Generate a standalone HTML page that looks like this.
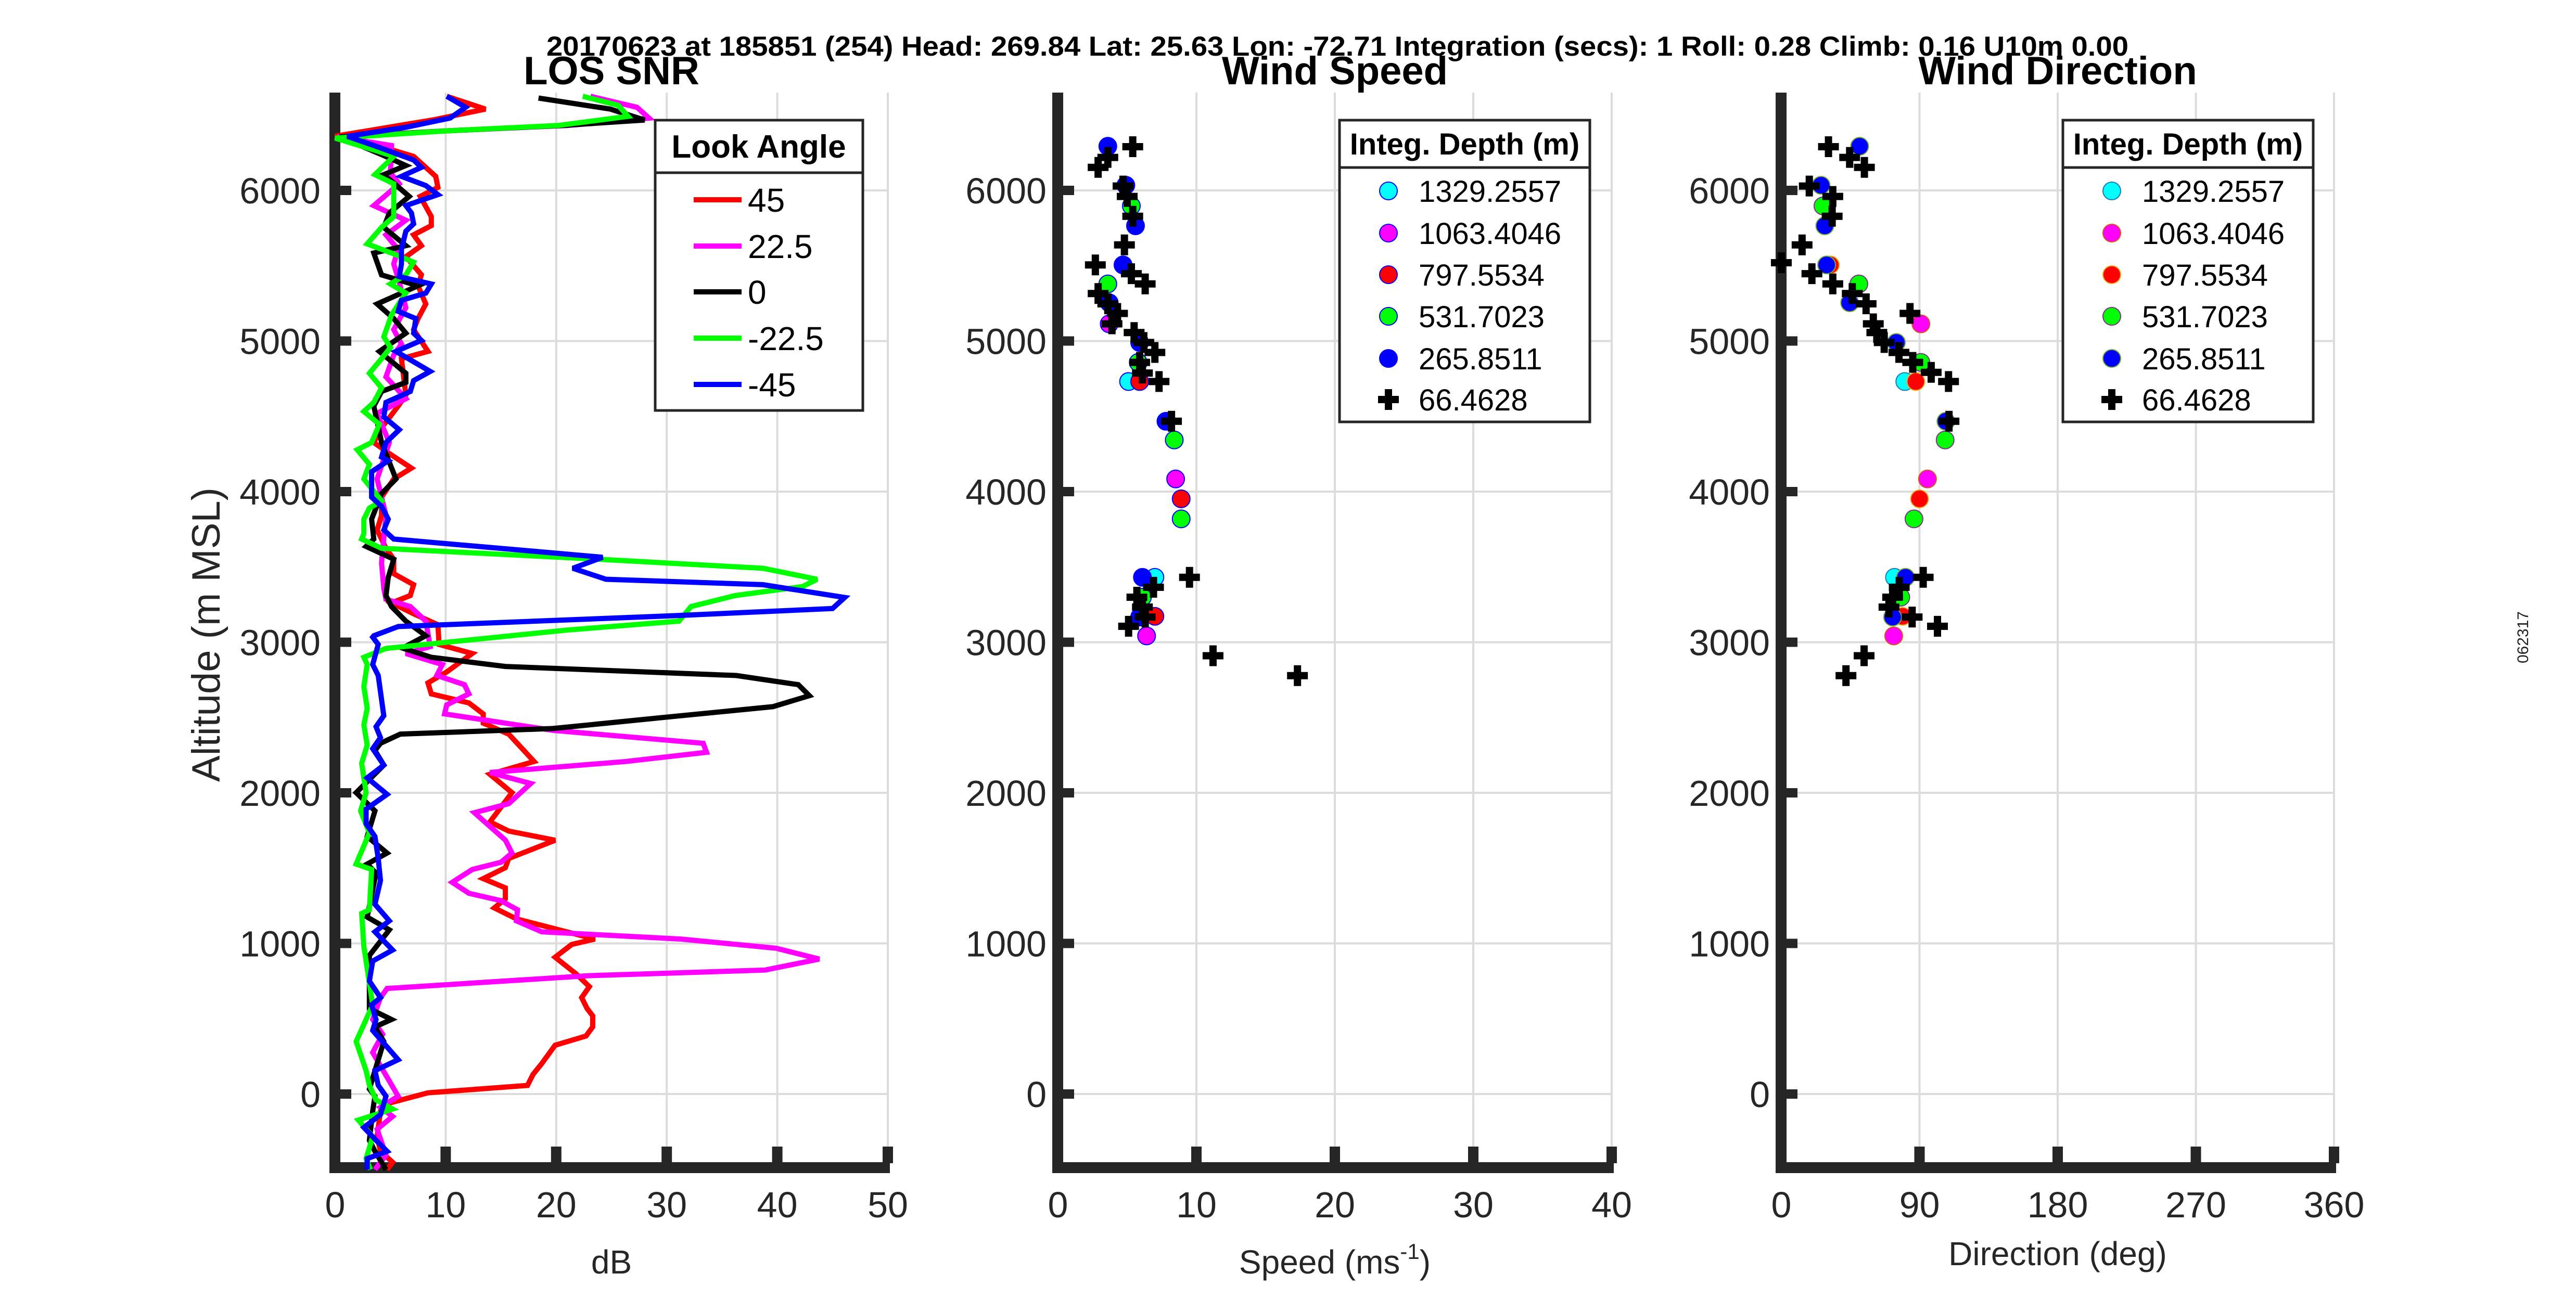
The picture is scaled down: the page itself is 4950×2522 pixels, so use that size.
<!DOCTYPE html>
<html><head><meta charset="utf-8"><style>
html,body{margin:0;padding:0;background:#fff;}
svg{display:block;font-family:"Liberation Sans",Arial,sans-serif;}
</style></head><body>
<svg id="fig" width="4950" height="2522" viewBox="0 0 4950 2522" xmlns="http://www.w3.org/2000/svg">
<rect width="4950" height="2522" fill="#fff"/>
<text x="2570" y="107" text-anchor="middle" font-size="53" font-weight="bold" textLength="3040" lengthAdjust="spacingAndGlyphs">20170623 at 185851 (254)  Head: 269.84  Lat: 25.63  Lon: -72.71  Integration (secs): 1  Roll: 0.28  Climb: 0.16  U10m 0.00</text>
<text transform="translate(4858,1225) rotate(-90)" text-anchor="middle" font-size="30" fill="#222">062317</text>
<g id="g1"></g><g id="g2"></g><g id="g3"></g>
</svg>
<script>
// ---------- SNR data (altitude m, dB) ----------
const snrAlt45 = [6625,6540,6470,6360,6298,6226,6093,6020,5960,5826,5766,5705,5633,5560,5440,5367,5246,5149,5076,4931,4883,4640,4568,4423,4326,4253,4156,4084,3963,3842,3745,3624,3551,3455,3382,3310,3261,3189,3116,2985,2925,2803,2730,2657,2597,2524,2463,2390,2208,2123,2001,1807,1746,1685,1564,1503,1430,1369,1296,1236,1163,1029,993,908,798,713,640,567,519,446,385,324,203,130,57,8,-64,-113,-283,-380,-453,-502];
const snrDb45 = [10.1,13.6,9,0,3.8,7.1,9.1,9.3,7.7,8.7,8.7,7.1,7.8,6.4,7.8,7.5,8.2,7.5,7.1,8.4,6.0,6.4,5.7,4.2,3.5,4.9,6.9,5.3,4.2,4.2,3.8,4.6,5.3,5.3,7.1,6.8,5.1,7.1,9.3,9.4,12.4,10.1,8.4,8.7,12.1,13.4,13.4,15.7,18.0,14.0,16.0,14.0,15.7,19.9,15.7,15.4,13.4,15.4,15.4,14.4,16.4,23.5,21.4,19.9,21.8,23.0,22.3,22.8,23.3,23.3,22.7,19.9,18.7,17.9,17.4,8.4,4.7,4.1,3.8,4.1,5.2,4.7];
const snrAlt225 = [6625,6552,6480,6431,6395,6355,6298,6117,6044,5899,5802,5705,5608,5512,5391,5221,5076,4980,4907,4762,4617,4520,4326,4084,3842,3527,3358,3285,3237,3140,2971,2925,2852,2779,2718,2657,2584,2524,2415,2329,2269,2208,2135,2062,1928,1868,1686,1600,1539,1491,1406,1333,1284,1223,1150,1077,1029,968,896,823,786,701,640,495,397,276,-15,-88,-149,-234,-405,-502];
const snrDb225 = [23.1,27.3,28.4,21.0,10,0.2,5.1,5.0,5.8,3.5,6.4,4.6,5.7,5.3,5.8,6.4,5.3,6.0,5.3,4.6,6.4,3.8,4.9,3.8,4.6,4.2,4.4,4.6,6.8,8.2,8.6,6.4,9.7,9.2,11.7,12.1,10.1,9.9,19.7,33.3,33.6,26.3,14.0,17.7,15.7,12.6,15.4,16.0,15.0,12.4,10.6,12.1,15.0,16.5,16.4,18.7,31.3,39.9,43.8,38.9,23.0,4.7,4.1,3.4,4.3,3.4,5.7,4.1,5.2,3.8,4.6,3.6];
const snrAlt0 = [6613,6540,6467,6431,6395,6355,6238,6165,6105,5960,5850,5754,5633,5584,5439,5367,5246,5149,5052,4931,4786,4725,4665,4568,4326,4084,3987,3817,3685,3636,3551,3430,3310,3237,3140,3043,2961,2900,2839,2779,2718,2645,2572,2500,2427,2390,2329,2281,2184,2001,1880,1710,1600,1527,1467,1248,1175,1090,920,567,495,446,349,33,-15,-113,-307,-380,-502];
const snrDb0 = [18.4,24.9,28.0,20.5,10.0,0.4,4.2,6.4,4.4,6.7,4.9,4.4,6.4,3.5,4.2,7.5,3.8,5.3,6.4,4.0,6.4,6.4,4.2,3.5,4.2,5.5,4.2,3.3,3.5,2.8,5.3,4.8,4.6,5.1,6.4,8.2,6.1,8.7,15.4,36.3,41.9,42.9,39.6,29.6,19.7,5.9,4.1,3.6,4.4,1.9,3.6,2.9,4.7,2.9,3.7,3.1,2.9,4.9,3.1,3.1,5.1,3.6,4.4,3.1,3.6,3.4,3.1,3.6,4.6];
const snrAltM225 = [6625,6565,6492,6431,6395,6347,6262,6226,6105,6044,5923,5826,5754,5645,5584,5524,5439,5379,5318,5173,5028,4956,4883,4786,4689,4592,4532,4447,4326,4278,4181,4084,3939,3890,3817,3720,3685,3624,3551,3491,3418,3370,3310,3237,3140,3080,2959,2900,2852,2706,2560,2451,2317,2196,2001,1880,1734,1527,1491,1223,1199,980,592,349,155,58,-39,-100,-173,-283,-429,-502];
const snrDbM225 = [22.4,25.6,26.5,20.2,10.0,0,3.8,5.3,3.6,5.3,5.3,5.3,4.2,2.9,5.1,7.1,6.4,5.0,6.4,5.1,4.4,5.0,4.2,3.1,4.2,3.5,2.6,4.0,3.3,2.0,3.1,2.6,4.2,3.1,2.6,2.6,2.4,4.2,23.8,38.7,43.6,42.3,36.2,32.2,31.1,20.9,4.6,2.6,2.9,2.6,2.9,2.6,2.9,2.4,2.8,2.3,3.1,1.9,3.3,3.1,2.4,2.6,3.4,1.9,2.8,3.1,3.7,5.2,2.1,3.4,2.8,3.2];
const snrAltM45 = [6625,6552,6480,6419,6359,6298,6202,6153,6093,6032,5972,5899,5850,5778,5729,5608,5512,5427,5379,5318,5270,5197,5149,5052,5004,4931,4798,4737,4665,4592,4496,4411,4326,4229,4205,4132,3963,3902,3817,3745,3685,3564,3491,3418,3382,3297,3224,3176,3104,3043,3034,2985,2852,2779,2512,2439,2366,2293,2184,2099,1990,1892,1795,1710,1564,1418,1260,1150,1077,956,883,750,640,592,495,422,228,155,58,-15,-137,-222,-307,-380,-429,-502];
const snrDbM45 = [10.1,11.8,10.4,6.4,1.1,3.5,7.1,7.8,6.0,8.2,9.3,6.4,6.9,7.1,6.4,6.0,6.0,5.8,8.7,8.2,6.0,5.7,7.3,7.1,7.8,5.5,8.6,7.1,6.8,4.6,4.4,5.8,4.6,4.2,4.8,3.3,3.3,4.2,4.8,4.4,5.3,24.2,21.5,24.5,38.7,46.1,45.0,30.7,5.7,3.5,3.4,3.9,3.4,3.9,4.4,3.7,4.1,3.4,4.4,2.9,4.7,2.8,2.8,3.6,3.9,4.1,3.6,4.9,3.6,5.2,3.4,3.1,4.1,3.3,3.7,3.4,5.7,3.6,3.9,4.6,4.1,2.6,3.7,4.7,2.9,2.9];
const snrLabels = ['45','22.5','0','-22.5','-45'];
const snrColors = ['#ff0000','#ff00ff','#000000','#00ff00','#0000ff'];

// ---------- Wind speed (m/s) ----------
const spdCyanAlt=[4731,3431], spdCyanVal=[5.1,7.0];
const spdMagAlt=[5114,4084,3042], spdMagVal=[3.7,8.5,6.4];
const spdRedAlt=[5505,4731,3952,3172], spdRedVal=[4.7,5.9,8.9,7.0];
const spdGreenAlt=[5897,5379,4858,4343,3819,3299], spdGreenVal=[5.3,3.6,5.8,8.4,8.9,6.1];
const spdBlueAlt=[6293,6034,5765,5505,5254,4990,4467,3431,3167], spdBlueVal=[3.6,4.9,5.6,4.7,3.7,5.9,7.8,6.1,5.9];
const spdBlackAlt=[6290,6219,6153,6029,5960,5828,5638,5505,5447,5379,5315,5247,5183,5114,5056,4990,4924,4858,4787,4731,4467,3431,3365,3299,3233,3167,3106,2910,2778];
const spdBlackVal=[5.4,3.6,2.9,4.7,5.0,5.4,4.8,2.7,5.3,6.3,2.9,3.6,4.3,3.9,5.5,6.2,7.0,5.9,6.1,7.3,8.2,9.5,6.9,5.7,6.1,6.3,5.1,11.2,17.3];

// ---------- Wind direction (deg) ----------
const dirCyanAlt=[4731,3431], dirCyanVal=[80.4,73.7];
const dirMagAlt=[5114,4084,3042], dirMagVal=[90.9,95.2,73.2];
const dirRedAlt=[5505,4731,3952,3172], dirRedVal=[31.9,87.6,90.0,79.0];
const dirGreenAlt=[5897,5379,4858,4343,3819,3299], dirGreenVal=[27.1,50.5,90.9,106.7,86.4,77.8];
const dirBlueAlt=[6293,6034,5765,5505,5254,4990,4467,3431,3167], dirBlueVal=[51.0,25.9,28.3,29.5,44.5,74.9,107.2,80.9,72.5];
const dirBlackAlt=[6290,6219,6153,6029,5960,5828,5638,5520,5447,5379,5315,5247,5183,5114,5056,4990,4924,4858,4792,4731,4467,3431,3365,3299,3233,3167,3106,2910,2778];
const dirBlackVal=[30.7,44.5,54.1,18.2,33.5,33.1,13.5,0,19.9,33.5,46.2,55.2,83.8,59.9,62.2,67.0,76.6,85.6,97.6,108.9,109.2,92.4,76.8,72.5,70.1,85.2,101.7,53.9,42.1];

const depthLabels=['1329.2557','1063.4046','797.5534','531.7023','265.8511','66.4628'];
const depthColors=['#00ffff','#ff00ff','#ff0000','#00ff00','#0000ff','#000000'];
const yTicks=[0,1000,2000,3000,4000,5000,6000];
const snrTicks=[0,10,20,30,40,50];
const spdTicks=[0,10,20,30,40];
const dirTicks=[0,90,180,270,360];

const NS='http://www.w3.org/2000/svg';
const Y0=2103, YPER=0.2895, YTOP=178, YBOT=2244;
function yS(a){return Y0-a*YPER;}
function mk(tag,attrs,parent){const e=document.createElementNS(NS,tag);for(const k in attrs)e.setAttribute(k,attrs[k]);parent.appendChild(e);return e;}

function axes(g,x0,x1,xmin,xmax,ticks,title,xlabel,tickLabelRight,idx){
  const xS=v=>x0+(v-xmin)/(xmax-xmin)*(x1-x0);
  ticks.forEach(t=>{ if(t===xmin) return;
    const l=mk('line',{x1:xS(t),x2:xS(t),y1:YTOP,y2:YBOT,stroke:'#dcdcdc','stroke-width':4},g);
    
    
  });
  yTicks.forEach(t=>{
    const l=mk('line',{x1:x0,x2:x1,y1:yS(t),y2:yS(t),stroke:'#dcdcdc','stroke-width':4},g);
    
    
  });
  const ya=mk('rect',{x:x0-11,y:YTOP,width:21,height:YBOT-YTOP+10,fill:'#262626'},g);
  
  
  const xa=mk('rect',{x:x0-11,y:YBOT-10,width:x1-x0+15,height:21,fill:'#262626'},g);
  
  
  yTicks.forEach(t=>{
    const r=mk('rect',{x:x0+9,y:yS(t)-9,width:22,height:18,fill:'#262626'},g);
    
    
    const tx=mk('text',{x:x0-tickLabelRight,y:yS(t)+25,'text-anchor':'end','font-size':70,fill:'#262626'},g);
    tx.textContent=t;
    
    
  });
  ticks.forEach(t=>{
    if(t!==xmin){const r=mk('rect',{x:xS(t)-10,y:YBOT-40,width:20,height:32,fill:'#262626'},g);
    
    }
    const tx=mk('text',{x:xS(t),y:2340,'text-anchor':'middle','font-size':70,fill:'#262626'},g);
    tx.textContent=t;
    
    
  });
  const ti=mk('text',{x:(x0+x1)/2,y:162,'text-anchor':'middle','font-size':76,'font-weight':'bold'},g);
  ti.textContent=title;
  
  
  return xS;
}

// ---------- Panel 1 ----------
const g1=document.getElementById('g1');
const x1S=axes(g1,644,1706,0,50,snrTicks,'LOS SNR','dB',28,1);
{const t=mk('text',{x:1175,y:2448,'text-anchor':'middle','font-size':64,fill:'#262626'},g1);t.textContent='dB';

}
{const t=mk('text',{transform:'translate(422,1220) rotate(-90)','text-anchor':'middle','font-size':76,fill:'#262626'},g1);t.textContent='Altitude (m MSL)';

}
const snrAlts=[snrAlt45,snrAlt225,snrAlt0,snrAltM225,snrAltM45];
const snrDbs=[snrDb45,snrDb225,snrDb0,snrDbM225,snrDbM45];
snrAlts.forEach((alts,i)=>{
  const pts=alts.map((a,j)=>x1S(snrDbs[i][j]).toFixed(1)+','+yS(a).toFixed(1)).join(' ');
  const p=mk('polyline',{points:pts,fill:'none',stroke:snrColors[i],'stroke-width':10,'stroke-linejoin':'miter','stroke-miterlimit':3},g1);
  
  
});
{const lg=mk('g',{},g1);


mk('rect',{x:1259,y:231,width:399,height:558,fill:'#fff',stroke:'#262626','stroke-width':5},lg);
mk('line',{x1:1259,x2:1658,y1:332,y2:332,stroke:'#262626','stroke-width':5},lg);
const tt=mk('text',{x:1458,y:303,'text-anchor':'middle','font-size':62,'font-weight':'bold'},lg);tt.textContent='Look Angle';
const ly=[384,473,561,650,739];
snrLabels.forEach((l,i)=>{
  mk('line',{x1:1333,x2:1425,y1:ly[i],y2:ly[i],stroke:snrColors[i],'stroke-width':10},lg);
  const t=mk('text',{x:1437,y:ly[i]+23,'font-size':64},lg);t.textContent=l;
  
  
});}

function marker(g,x,y,color,edge,cross){
  if(cross){
    const p=mk('path',{d:`M${x-7},${y-20}h14v13h13v14h-13v13h-14v-13h-13v-14h13z`,fill:'#000'},g);
    
    
  } else {
    const c=mk('circle',{cx:x,cy:y,r:17,fill:color,stroke:edge,'stroke-width':2},g);
    
    
  }
}
function scatterPanel(g,xS,altsArr,valsArr,edges){
  altsArr.forEach((alts,i)=>{
    alts.forEach((a,j)=>marker(g,xS(valsArr[i][j]),yS(a),depthColors[i],edges[i],i===5));
  });
}
function depthLegend(g,x0,x1,mx,tx,edges){
  const lg=mk('g',{},g);
  
  
  mk('rect',{x:x0,y:231,width:x1-x0,height:580,fill:'#fff',stroke:'#262626','stroke-width':5},lg);
  mk('line',{x1:x0,x2:x1,y1:322,y2:322,stroke:'#262626','stroke-width':5},lg);
  const tt=mk('text',{x:(x0+x1)/2,y:297,'text-anchor':'middle','font-size':58,'font-weight':'bold'},lg);tt.textContent='Integ. Depth (m)';
  const ly=[367,448,528,608,689,768];
  depthLabels.forEach((l,i)=>{
    marker(lg,mx,ly[i],depthColors[i],edges[i],i===5);
    const t=mk('text',{x:tx,y:ly[i]+21,'font-size':58},lg);t.textContent=l;
    
    
  });
}

// ---------- Panel 2 ----------
const g2=document.getElementById('g2');
const x2S=axes(g2,2033,3097,0,40,spdTicks,'Wind Speed','',22,2);
{const t=mk('text',{x:2565,y:2448,'text-anchor':'middle','font-size':64,fill:'#262626'},g2);
t.innerHTML='Speed (ms<tspan dy="-28" font-size="42">-1</tspan><tspan dy="28">)</tspan>';

}
const edges2=['#0000ff','#0000ff','#0000ff','#0000ff','#0000ff','#000'];
scatterPanel(g2,x2S,[spdCyanAlt,spdMagAlt,spdRedAlt,spdGreenAlt,spdBlueAlt,spdBlackAlt],[spdCyanVal,spdMagVal,spdRedVal,spdGreenVal,spdBlueVal,spdBlackVal],edges2);
depthLegend(g2,2574,3055,2668,2726,edges2);

// ---------- Panel 3 ----------
const g3=document.getElementById('g3');
const x3S=axes(g3,3423,4485,0,360,dirTicks,'Wind Direction','',22,3);
{const t=mk('text',{x:3954,y:2432,'text-anchor':'middle','font-size':64,fill:'#262626'},g3);t.textContent='Direction (deg)';

}
const edges3=['#1f77b4','#d95319','#edb120','#7e2f8e','#77ac30','#000'];
scatterPanel(g3,x3S,[dirCyanAlt,dirMagAlt,dirRedAlt,dirGreenAlt,dirBlueAlt,dirBlackAlt],[dirCyanVal,dirMagVal,dirRedVal,dirGreenVal,dirBlueVal,dirBlackVal],edges3);
depthLegend(g3,3964,4445,4058,4116,edges3);
</script>
</body></html>
